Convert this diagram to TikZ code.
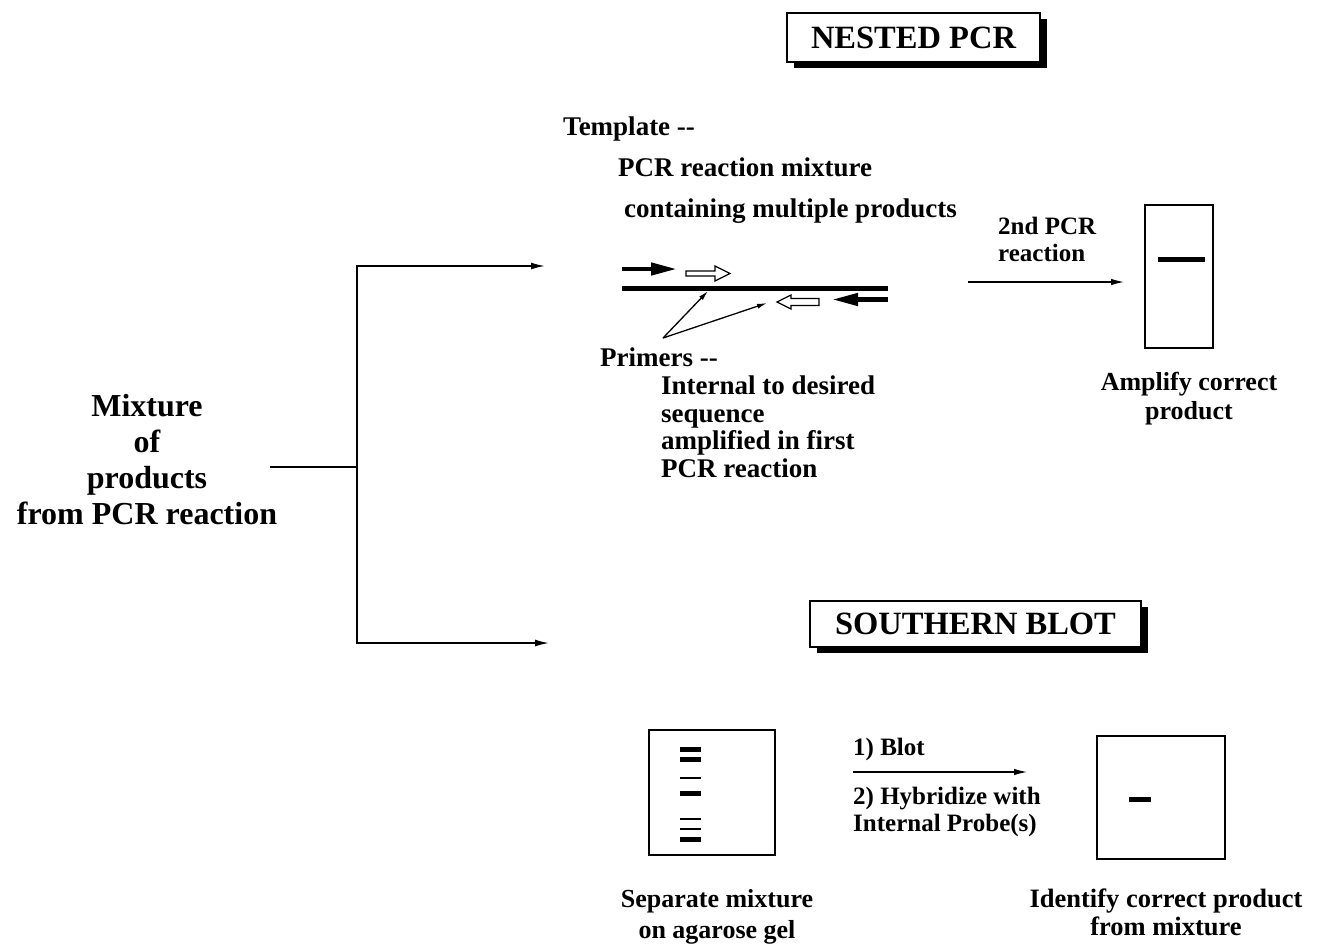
\documentclass[tikz,border=0pt]{standalone}
\usepackage{fontspec}
\setmainfont{Liberation Serif}
\usepackage{tikz}
\usetikzlibrary{arrows.meta,shadows,positioning}
\tikzset{
    body-text/.style = {font=\bfseries\fontsize{27}{27.5}\selectfont, inner sep=0pt, align=left, anchor=north west},
    small-text/.style = {body-text, font=\bfseries\fontsize{25}{27}\selectfont},
    title-box/.style = {draw=black, fill=white, line width=1.6pt, inner sep=0pt, font=\bfseries\fontsize{32.5}{36}\selectfont, drop shadow={shadow xshift=7pt, shadow yshift=-6pt, fill=black, opacity=1}},
    gel-box/.style = {draw=black, line width=1.8pt, rectangle, inner sep=0pt},
    thick-band/.style = {line width=5pt},
    thin-band/.style = {line width=2pt},
    tree-line/.style = {line width=1.6pt},
    thin-arrow/.style = {line width=1.3pt, -{Latex[length=13pt, width=6.5pt]}},
    pointer/.style = {line width=1.3pt, -{Latex[length=10pt, width=5pt]}},
    solid-primer/.style = {line width=4.5pt, -{Triangle[length=26pt, width=12pt]}},
    hollow-primer/.style = {draw=black, fill=white, line width=1.3pt, line join=miter},
}

\begin{document}
\begin{tikzpicture}[x=1pt, y=-1pt]
\useasboundingbox (0,0) rectangle (1320,943);

\node[body-text, anchor=north, align=center, font=\bfseries\fontsize{32}{36}\selectfont] (mixture) at (147,394) {Mixture\\of\\products\\from PCR reaction};
\coordinate (split-start) at (270,467);
\coordinate (branch) at (357,467);
\coordinate (nested-in) at (545,266);
\coordinate (blot-in) at (549,643);
\draw[tree-line] (split-start) -- (branch);
\draw[tree-line, -{Latex[length=14pt, width=7pt]}] (branch) |- (nested-in);
\draw[tree-line, -{Latex[length=14pt, width=7pt]}] (branch) |- (blot-in);

\node[title-box, minimum width=253pt, minimum height=49pt] (nested-title) at (913.5,37.5) {NESTED PCR};
\node[title-box, minimum width=331pt, minimum height=46pt] (blot-title) at (975.5,624) {SOUTHERN BLOT};

\node[body-text] (template) at (563,117) {Template -{}-};
\node[body-text] (template-mix) at (618,158) {PCR reaction mixture};
\node[body-text] (template-prod) at (624,199) {containing multiple products};

\coordinate (strand-l) at (622,288);
\coordinate (strand-r) at (888,288);
\draw[line width=5pt] (strand-l) -- (strand-r);
\draw[solid-primer] (622,269) -- (677,269);
\draw[solid-primer] (888,299.5) -- (832,299.5);
\draw[hollow-primer] (686,271) -- (715,271) -- (715,266) -- (730,273.5) -- (715,281) -- (715,276) -- (686,276) -- cycle;
\draw[hollow-primer] (819,298.5) -- (791,298.5) -- (791,295) -- (777,302) -- (791,309) -- (791,305.5) -- (819,305.5) -- cycle;

\coordinate (pointer-root) at (663,338);
\coordinate (strand-hit) at (708,291);
\coordinate (rev-hit) at (767,303);
\draw[pointer] (pointer-root) -- (strand-hit);
\draw[pointer] (pointer-root) -- (rev-hit);

\node[body-text] (primers) at (600,348) {Primers -{}-};
\node[body-text] (primers-note) at (661,376) {Internal to desired\\sequence\\amplified in first\\PCR reaction};

\node[small-text] (second-pcr) at (998,217) {2nd PCR\\reaction};
\node[gel-box, minimum width=68pt, minimum height=143pt] (gel-pcr) at (1179,276.5) {};
\coordinate (pcr-from) at (968,282);
\draw[thin-arrow, shorten >=20pt] (pcr-from) -- (gel-pcr.west |- pcr-from);
\draw[thick-band] (1158,259) -- (1205,259);
\node[body-text, anchor=north, align=center, font=\bfseries\fontsize{26}{29}\selectfont] (amplify) at (1189,372) {Amplify correct\\product};

\node[gel-box, minimum width=126pt, minimum height=125pt] (gel-mix) at (712,792.5) {};
\draw[thick-band] (680,749) -- (701,749);
\draw[thick-band] (680,759) -- (701,759);
\draw[thin-band] (680,778) -- (701,778);
\draw[thick-band] (680,793) -- (701,793);
\draw[thin-band] (680,819) -- (701,819);
\draw[thin-band] (680,829) -- (701,829);
\draw[thick-band] (680,839) -- (701,839);
\node[body-text, anchor=north, align=center, font=\bfseries\fontsize{26}{31}\selectfont] (separate) at (717,889) {Separate mixture\\on agarose gel};

\node[small-text] (blot-step) at (853,738) {1) Blot};
\node[gel-box, minimum width=128pt, minimum height=123pt] (gel-probe) at (1161,797.5) {};
\coordinate (blot-from) at (853,772);
\draw[thin-arrow, shorten >=69pt] (blot-from) -- (gel-probe.west |- blot-from);
\node[small-text] (hybridize-step) at (853,787) {2) Hybridize with\\Internal Probe(s)};
\draw[thick-band] (1129,799) -- (1151,799);
\node[body-text, anchor=north, align=center, font=\bfseries\fontsize{26.5}{28}\selectfont] (identify) at (1166,889) {Identify correct product\\from mixture};
\end{tikzpicture}
\end{document}
